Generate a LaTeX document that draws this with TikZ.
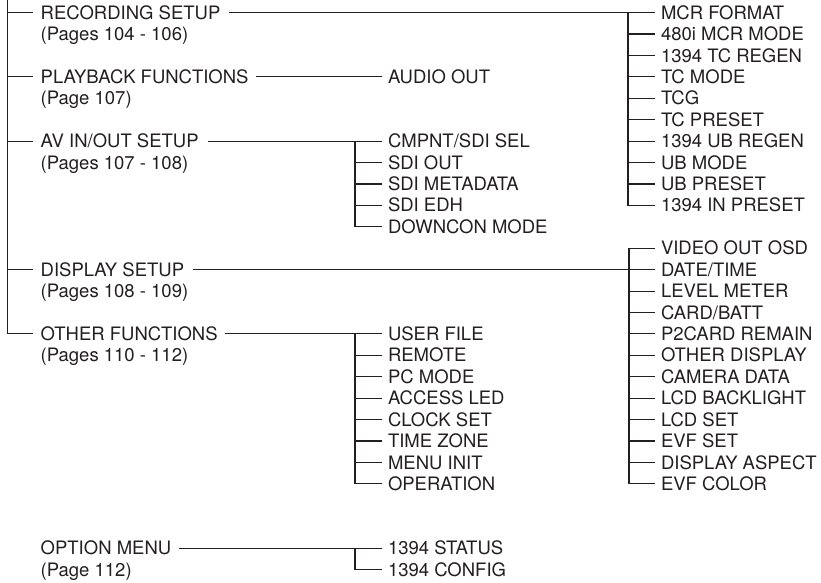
\documentclass[tikz,border=0pt]{standalone}
\usepackage{fontspec}
\setmainfont{TeX Gyre Heros}
\usetikzlibrary{calc}
\definecolor{ink}{HTML}{231F20}
\newcommand\ry[1]{12.6+21.42*(#1)}
\begin{document}
\begin{tikzpicture}[x=1pt,y=-1pt,
  conn/.style={draw=ink,line width=1.1pt},
  lbl/.style={anchor=base west,inner sep=0pt,outer sep=0pt,text=ink,
              font=\fontsize{18.5}{21}\selectfont}]
\useasboundingbox (0,0) rectangle (821,582);

% ---- main entries ----
\node[lbl] (rec)  at (40.7,{\ry{0}+6.6})  {RECORDING SETUP};
\node[lbl] (recp) at (40.7,{\ry{1}+6.6})  {(Pages 104 - 106)};
\node[lbl] (pb)   at (40.7,{\ry{3}+6.6})  {PLAYBACK FUNCTIONS};
\node[lbl] (pbp)  at (40.7,{\ry{4}+6.6})  {(Page 107)};
\node[lbl] (av)   at (40.7,{\ry{6}+6.6})  {AV IN/OUT SETUP};
\node[lbl] (avp)  at (40.7,{\ry{7}+6.6})  {(Pages 107 - 108)};
\node[lbl] (dsp)  at (40.7,{\ry{12}+6.6}) {DISPLAY SETUP};
\node[lbl] (dspp) at (40.7,{\ry{13}+6.6}) {(Pages 108 - 109)};
\node[lbl] (oth)  at (40.7,{\ry{15}+6.6}) {OTHER FUNCTIONS};
\node[lbl] (othp) at (40.7,{\ry{16}+6.6}) {(Pages 110 - 112)};
\node[lbl] (opt)  at (40.7,{\ry{25}+6.6}) {OPTION MENU};
\node[lbl] (optp) at (40.7,{\ry{26}+6.6}) {(Page 112)};

% ---- trunk ----
\coordinate (ttop) at (7.5,-2);
\coordinate (trec) at (7.5,{\ry{0}});
\coordinate (tpb)  at (7.5,{\ry{3}});
\coordinate (tav)  at (7.5,{\ry{6}});
\coordinate (tdsp) at (7.5,{\ry{12}});
\coordinate (toth) at (7.5,{\ry{15}});
\coordinate (topt) at (7.5,{\ry{25}});
\draw[conn] (ttop) -- (toth) -- ($(oth.west|-toth)+(-7.5,0)$);
\foreach \m in {rec,pb,av,dsp}
  \draw[conn] (t\m) -- ($(\m.west|-t\m)+(-7.5,0)$);

% ---- AUDIO OUT ----
\node[lbl] (ao) at (388,{\ry{3}+6.6}) {AUDIO OUT};
\draw[conn] ($(pb.east|-tpb)+(7,0)$) -- ($(ao.west|-tpb)+(-6,0)$);

% ---- column A : recording ----
\foreach \t [count=\i from 0] in {MCR FORMAT,480i MCR MODE,1394 TC REGEN,TC MODE,TCG,TC PRESET,1394 UB REGEN,UB MODE,UB PRESET,1394 IN PRESET}{
  \coordinate (ja\i) at (628,{\ry{\i}});
  \node[lbl] (a\i) at (661,{\ry{\i}+6.6}) {\t};
  \draw[conn] (ja\i) -- ($(a\i.west|-ja\i)+(-6.5,0)$);
}
\draw[conn] ($(rec.east|-ja0)+(9,0)$) -- (ja0);
\draw[conn] (ja0) -- (ja9) -- ($(a9.west|-ja9)+(-6.5,0)$);

% ---- column B : AV ----
\foreach \t [count=\i from 0] in {CMPNT/SDI SEL,SDI OUT,SDI METADATA,SDI EDH,DOWNCON MODE}{
  \coordinate (jb\i) at (355,{\ry{6+\i}});
  \node[lbl] (b\i) at (388,{\ry{6+\i}+6.6}) {\t};
  \draw[conn] (jb\i) -- ($(b\i.west|-jb\i)+(-6,0)$);
}
\draw[conn] ($(av.east|-jb0)+(9,0)$) -- (jb0);
\draw[conn] (jb0) -- (jb4) -- ($(b4.west|-jb4)+(-6,0)$);

% ---- column C : display ----
\foreach \t [count=\i from 0] in {VIDEO OUT OSD,DATE/TIME,LEVEL METER,CARD/BATT,P2CARD REMAIN,OTHER DISPLAY,CAMERA DATA,LCD BACKLIGHT,LCD SET,EVF SET,DISPLAY ASPECT,EVF COLOR}{
  \coordinate (jc\i) at (629,{\ry{11+\i}});
  \node[lbl] (c\i) at (661,{\ry{11+\i}+6.6}) {\t};
  \draw[conn] (jc\i) -- ($(c\i.west|-jc\i)+(-6.5,0)$);
}
\draw[conn] ($(dsp.east|-jc1)+(9,0)$) -- (jc1);
\draw[conn] ($(c0.west|-jc0)+(-6.5,0)$) -- (jc0) -- (jc11) -- ($(c11.west|-jc11)+(-6.5,0)$);

% ---- column D : other ----
\foreach \t [count=\i from 0] in {USER FILE,REMOTE,PC MODE,ACCESS LED,CLOCK SET,TIME ZONE,MENU INIT,OPERATION}{
  \coordinate (jd\i) at (355,{\ry{15+\i}});
  \node[lbl] (d\i) at (388,{\ry{15+\i}+6.6}) {\t};
  \draw[conn] (jd\i) -- ($(d\i.west|-jd\i)+(-6,0)$);
}
\draw[conn] ($(oth.east|-jd0)+(7,0)$) -- (jd0);
\draw[conn] (jd0) -- (jd7) -- ($(d7.west|-jd7)+(-6,0)$);

% ---- column E : option ----
\foreach \t [count=\i from 0] in {1394 STATUS,1394 CONFIG}{
  \coordinate (je\i) at (355,{\ry{25+\i}});
  \node[lbl] (e\i) at (388,{\ry{25+\i}+6.6}) {\t};
  \draw[conn] (je\i) -- ($(e\i.west|-je\i)+(-6,0)$);
}
\draw[conn] ($(opt.east|-je0)+(8,0)$) -- (je0);
\draw[conn] (je0) -- (je1) -- ($(e1.west|-je1)+(-6,0)$);
\end{tikzpicture}
\end{document}
